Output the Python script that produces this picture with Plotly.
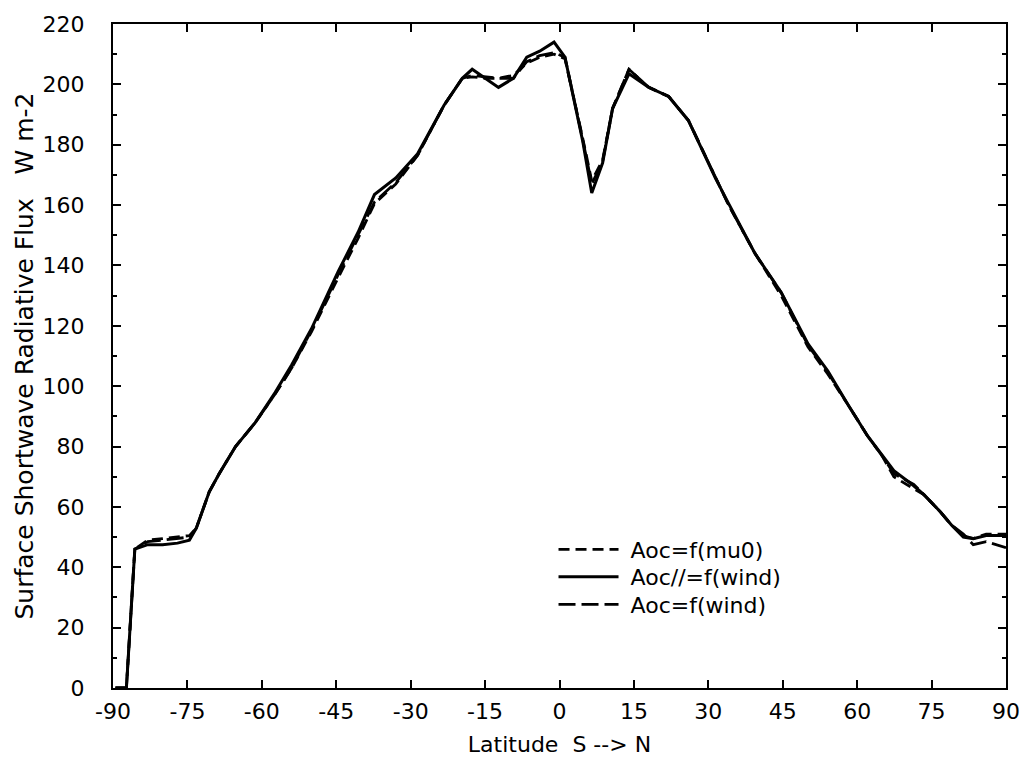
import plotly.graph_objects as go

# Latitude grid (degrees, S -> N)
lat = [-89.5, -87.3, -85.6, -83, -80, -77, -74.6, -73.2, -70.6, -68.6, -65.3, -61.3,
       -57.3, -54, -50, -44.6, -40.6, -37.3, -33, -28.6, -23.3, -19.6, -17.6, -15,
       -12.3, -9.3, -6.6, -4, -1.1, 1.1, 2.7, 4.7, 6.5, 8.7, 10.7, 14, 18, 22, 26,
       28, 31.4, 34.1, 39.4, 44.7, 50.1, 54.1, 58.1, 62.1, 65, 67.4, 71.4, 73.5,
       76.7, 79, 81.4, 83.4, 86, 90]

# Aoc=f(mu0)  (short dash)
flux_mu0 = [0, 0, 46, 49, 49.5, 50, 50.5, 53, 65, 71, 80, 88,
            97.5, 106, 118, 136, 149, 160.5, 167, 176.5, 193, 202, 202.5, 202,
            202, 203, 207, 209, 210, 208.5, 197, 182, 168, 175, 192, 205, 199, 196, 188,
            181, 169, 160, 144, 130, 113, 104, 94, 83.5, 77, 70, 66, 64,
            58.5, 54, 50.5, 49.5, 51, 51]

# Aoc//=f(wind)  (solid)
flux_wind_par = [0, 0, 46, 47.5, 47.5, 48, 49, 53, 65, 71, 80, 88,
                 98, 107, 119, 138, 151, 163.5, 169, 177, 193, 202, 205, 202,
                 199, 202, 209, 211, 214, 209, 197, 181, 164, 174, 192, 203.5, 199, 196, 188,
                 181, 169, 160.5, 144, 131, 114, 105, 94, 83.5, 77, 72, 67, 64,
                 58.5, 54, 50, 49.5, 50.5, 50.5]

# Aoc=f(wind)  (long dash)
flux_wind = [0, 0, 46, 48.5, 49, 49.5, 50, 53, 65, 71, 80, 88,
             97.5, 106, 118.5, 137, 150, 161, 167.5, 176.5, 193, 202, 203, 202.5,
             202, 202, 207.5, 209.5, 210.5, 209, 197, 181.5, 167, 174.5, 192, 205, 199, 196, 188,
             181, 169, 160, 144, 131, 113.5, 104.5, 94, 83.5, 77, 71, 67.5, 64,
             58.5, 54, 51, 47.5, 48.5, 46.5]

series_names = ["Aoc=f(mu0)", "Aoc//=f(wind)", "Aoc=f(wind)"]
x_ticks = [-90, -75, -60, -45, -30, -15, 0, 15, 30, 45, 60, 75, 90]
y_ticks = [0, 20, 40, 60, 80, 100, 120, 140, 160, 180, 200, 220]

FONT = "DejaVu Sans"
NB = "\u00a0"

fig = go.Figure()
fig.add_trace(go.Scatter(x=lat, y=flux_mu0, mode="lines", name=NB + series_names[0],
                         legend="legend",
                         line=dict(color="black", width=2.8, dash="11px,6px")))
fig.add_trace(go.Scatter(x=lat, y=flux_wind_par, mode="lines", name=NB + series_names[1],
                         legend="legend2",
                         line=dict(color="black", width=3)))
fig.add_trace(go.Scatter(x=lat, y=flux_wind, mode="lines", name=NB + series_names[2],
                         legend="legend3",
                         line=dict(color="black", width=2.8, dash="17px,6px")))

axis_common = dict(
    showline=True, linecolor="black", linewidth=2, mirror="ticks",
    ticks="inside", tickcolor="black", tickwidth=1.5, ticklen=8,
    showgrid=False, zeroline=False,
    tickfont=dict(family=FONT, size=22, color="black"),
)

fig.update_xaxes(range=[-90, 90], tickvals=x_ticks, ticktext=[str(v) for v in x_ticks],
                 title=dict(text="Latitude" + NB + NB + "S --> N",
                            font=dict(family=FONT, size=22, color="black"), standoff=13),
                 ticklabelstandoff=3, **axis_common)
fig.update_yaxes(range=[0, 220], tickvals=y_ticks,
                 minor=dict(dtick=10, ticks="inside", ticklen=4, tickcolor="black", tickwidth=1.5),
                 title=dict(text="Surface Shortwave Radiative Flux" + NB * 3 + "W m-2",
                            font=dict(family=FONT, size=25, color="black"), standoff=2),
                 ticklabelstandoff=22, **axis_common)

leg_common = dict(xanchor="left", yanchor="middle", bgcolor="rgba(0,0,0,0)",
                  borderwidth=0, font=dict(family=FONT, size=22, color="black"),
                  itemwidth=60)
lx = 0.4933
fig.update_layout(
    width=1032, height=765,
    margin=dict(l=113, r=19, t=17, b=72, pad=0),
    paper_bgcolor="white", plot_bgcolor="white",
    font=dict(family=FONT, size=22, color="black"),
    showlegend=True,
    legend=dict(x=lx, y=0.2086, **leg_common),
    legend2=dict(x=lx, y=0.1672, **leg_common),
    legend3=dict(x=lx, y=0.1257, **leg_common),
)

fig.write_html("out.html")
